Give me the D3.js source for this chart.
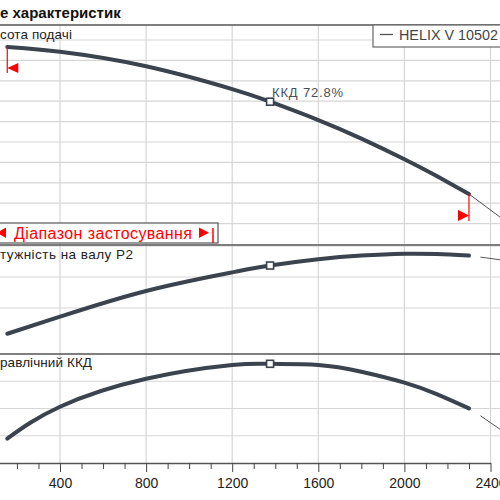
<!DOCTYPE html>
<html><head><meta charset="utf-8">
<script src="https://cdn.jsdelivr.net/npm/d3@7"></script>
<style>
html,body{margin:0;padding:0;background:#fff;}
svg{display:block;font-family:"Liberation Sans",Arial,sans-serif;}
</style></head>
<body>
<script>
// ---- data ----
const flow   = [155, 400, 800, 1200, 1376, 1600, 1800, 2000, 2150, 2300];
const head   = [19.32, 18.84, 17.42, 15.18, 13.95, 12.15, 10.33, 8.31, 6.66, 4.90];
const power  = [0.617, 0.672, 0.755, 0.815, 0.837, 0.857, 0.869, 0.875, 0.874, 0.869];
const eff    = [17.9, 41.3, 61.8, 71.9, 72.8, 72.0, 67.0, 59.0, 50.6, 40.1];
const extFlowHead = [2300, 2450];
const extHead     = [4.90, 2.55];
const extFlowPE   = [2355, 2450];
const extPower    = [0.864, 0.855];
const extEff      = [34.5, 24.1];
const bepFlow = 1376, bepHead = 13.95, bepPower = 0.837, bepEff = 72.8;
const xTickLabels = [400, 800, 1200, 1600, 2000, 2400];
const headGrid  = [2,4,6,8,10,12,14,16,18,20];
const powerGrid = [0.7, 0.8, 0.9];
const effGrid   = [20, 40, 60];
const titleText = "е характеристик";
const legendText = "HELIX V 10502";
const labelHead = "сота подачі";
const labelPower = "тужність на валу  P2";
const labelEff = "равлічний ККД";
const rangeText = "Діапазон застосування";
const bepText = "ККД  72.8%";

const W = 500, H = 500;
const svg = d3.select("body").append("svg").attr("width", W).attr("height", H);

const x = d3.scaleLinear().domain([0, 2400]).range([-26.1, 490.5]);
const yHead  = d3.scaleLinear().domain([0, 20]).range([244, 40]);
const yPower = d3.scaleLinear().domain([0.6, 0.9]).range([339, 246]);
const yEff   = d3.scaleLinear().domain([0, 80]).range([463, 354]);

const gridC = "#d6d6d6", sepC = "#555", curveC = "#3a434e";

// vertical grid lines
svg.append("g").selectAll("line").data(xTickLabels).join("line")
  .attr("x1", d => x(d)).attr("x2", d => x(d)).attr("y1", 25).attr("y2", 463)
  .attr("stroke", gridC).attr("stroke-width", 1.2);

// horizontal grid lines
function hgrid(vals, sc){
  svg.append("g").selectAll("line").data(vals).join("line")
    .attr("x1", 0).attr("x2", W).attr("y1", d => sc(d)).attr("y2", d => sc(d))
    .attr("stroke", gridC).attr("stroke-width", 1.2);
}
hgrid(headGrid, yHead); hgrid(powerGrid, yPower); hgrid(effGrid, yEff);

// panel separators
[25, 245, 354].forEach(yy => svg.append("line").attr("x1",0).attr("x2",W)
  .attr("y1",yy).attr("y2",yy).attr("stroke",sepC).attr("stroke-width",1.3));

// x axis
const minorTicks = d3.range(100, 2500, 100);
const axis = d3.axisBottom(x).tickValues(minorTicks)
  .tickFormat(d => xTickLabels.includes(d) ? d : "").tickSize(6).tickSizeOuter(0).tickPadding(9);
const ax = svg.append("g").attr("transform", "translate(0,463)").call(axis);
ax.select(".domain").attr("stroke", sepC).attr("stroke-width", 1.3);
ax.selectAll(".tick line").attr("stroke", "#444").attr("stroke-width", 1)
  .attr("y2", d => xTickLabels.includes(d) ? 9 : 6);
ax.selectAll(".tick text").attr("font-size", 14).attr("fill", "#222")
  .attr("font-family", "Liberation Sans, Arial, sans-serif");

// curves
function curve(xs, ys, sc, width, color){
  const pts = xs.map((q,i) => [x(q), sc(ys[i])]);
  svg.append("path").datum(pts)
    .attr("d", d3.line().curve(d3.curveNatural))
    .attr("fill", "none").attr("stroke", color).attr("stroke-width", width)
    .attr("stroke-linecap", "round");
}
curve(flow, head, yHead, 4, curveC);
curve(flow, power, yPower, 4, curveC);
curve(flow, eff, yEff, 4, curveC);
curve(extFlowHead, extHead, yHead, 1, "#555");
curve(extFlowPE, extPower, yPower, 1, "#555");
curve(extFlowPE, extEff, yEff, 1, "#555");

// BEP markers
[[bepHead, yHead],[bepPower, yPower],[bepEff, yEff]].forEach(([v, sc]) => {
  svg.append("rect").attr("x", x(bepFlow)-3.5).attr("y", sc(v)-3.5)
    .attr("width", 7).attr("height", 7).attr("fill", "#fff")
    .attr("stroke", curveC).attr("stroke-width", 1.6);
});
svg.append("text").attr("x", x(bepFlow)+2).attr("y", yHead(bepHead)-5)
  .attr("font-size", 13).attr("fill", "#4a5058")
  .attr("textLength", 71).attr("lengthAdjust", "spacing").text(bepText);

// red range markers on head curve
const qs = flow[0], qe = flow[flow.length-1];
const red = "#ff0000";
const hs = head[0], he = head[head.length-1];
svg.append("line").attr("x1", x(qs)).attr("x2", x(qs)).attr("y1", yHead(hs)).attr("y2", yHead(hs)+26)
  .attr("stroke", red).attr("stroke-width", 1.2);
svg.append("path").attr("d", `M${x(qs)+11},${yHead(hs)+16} L${x(qs)+11},${yHead(hs)+26} L${x(qs)},${yHead(hs)+21} Z`)
  .attr("fill", red);
svg.append("line").attr("x1", x(qe)).attr("x2", x(qe)).attr("y1", yHead(he)).attr("y2", yHead(he)+27)
  .attr("stroke", red).attr("stroke-width", 1.2);
svg.append("path").attr("d", `M${x(qe)-11},${yHead(he)+16} L${x(qe)-11},${yHead(he)+27} L${x(qe)},${yHead(he)+21.5} Z`)
  .attr("fill", red);

// range box
svg.append("rect").attr("x", -5).attr("y", 223).attr("width", 223).attr("height", 20)
  .attr("fill", "#fff").attr("stroke", sepC).attr("stroke-width", 1.2);
svg.append("path").attr("d", "M6,227.5 L6,238 L-3,232.7 Z").attr("fill", red);
svg.append("path").attr("d", "M199,227.5 L199,238 L209,232.7 Z").attr("fill", red);
svg.append("line").attr("x1", 213).attr("x2", 213).attr("y1", 228).attr("y2", 243)
  .attr("stroke", red).attr("stroke-width", 1.5);
svg.append("text").attr("x", 14).attr("y", 238.5).attr("font-size", 16).attr("fill", red)
  .attr("textLength", 178).attr("lengthAdjust", "spacing").text(rangeText);

// panel labels
svg.append("text").attr("x", 0).attr("y", 39).attr("font-size", 13.5).attr("fill", "#222")
  .attr("textLength", 72).attr("lengthAdjust", "spacing").text(labelHead);
svg.append("text").attr("x", 0).attr("y", 259).attr("font-size", 13.5).attr("fill", "#222")
  .attr("textLength", 133).attr("lengthAdjust", "spacing").text(labelPower);
svg.append("text").attr("x", 0).attr("y", 367).attr("font-size", 13.5).attr("fill", "#222")
  .attr("textLength", 92).attr("lengthAdjust", "spacing").text(labelEff);

// legend box
svg.append("rect").attr("x", 373).attr("y", 25).attr("width", 140).attr("height", 22)
  .attr("fill", "#fff").attr("stroke", "#666").attr("stroke-width", 1.2);
svg.append("line").attr("x1", 380).attr("x2", 393).attr("y1", 34.5).attr("y2", 34.5)
  .attr("stroke", "#555").attr("stroke-width", 1.3);
svg.append("text").attr("x", 399).attr("y", 40).attr("font-size", 15).attr("fill", "#444")
  .attr("textLength", 99).attr("lengthAdjust", "spacingAndGlyphs").text(legendText);

// title
svg.append("text").attr("x", 0).attr("y", 18).attr("font-size", 15).attr("font-weight", "bold")
  .attr("fill", "#111").text(titleText);
</script>
</body></html>
